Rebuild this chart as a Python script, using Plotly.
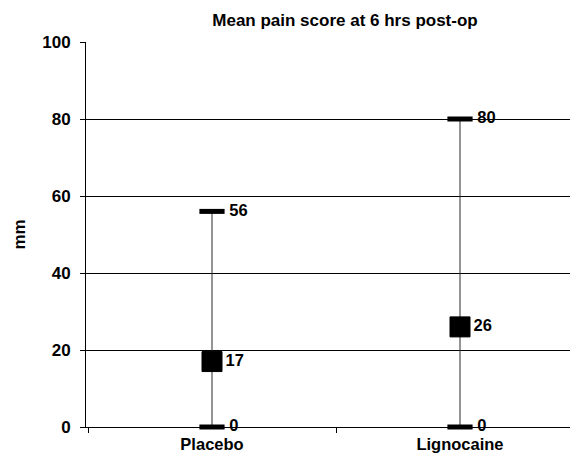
import plotly.graph_objects as go

categories = ["Placebo", "Lignocaine"]
means = [17, 26]
maxs = [56, 80]
mins = [0, 0]
y_ticks = [0, 20, 40, 60, 80, 100]

xpos = list(range(len(categories)))
FONT = "Liberation Sans, Arial, sans-serif"
lab_font = dict(family=FONT, size=16.5, color="black", weight="bold")

# page body has an 8px default margin; size the figure to fill the rest
OFF = 8
W, H = 578 - OFF, 454 - OFF

fig = go.Figure()

# vertical range lines
lx, ly = [], []
for i in xpos:
    lx += [i, i, None]
    ly += [mins[i], maxs[i], None]
fig.add_trace(go.Scatter(x=lx, y=ly, mode="lines", line=dict(color="#2a2a2a", width=1),
                         hoverinfo="skip", showlegend=False, cliponaxis=False))

# max / min dashes
for vals in (maxs, mins):
    fig.add_trace(go.Scatter(
        x=xpos, y=vals, mode="markers",
        marker=dict(symbol="line-ew", size=18, line=dict(color="black", width=5)),
        showlegend=False, cliponaxis=False, hoverinfo="skip"))
    # labels (invisible spacer marker controls text offset)
    fig.add_trace(go.Scatter(
        x=xpos, y=vals, mode="markers+text",
        marker=dict(size=26, opacity=0),
        text=[str(v) for v in vals], textposition="middle right",
        textfont=lab_font, showlegend=False, cliponaxis=False, hoverinfo="skip"))

# means
fig.add_trace(go.Scatter(
    x=xpos, y=means, mode="markers+text",
    marker=dict(symbol="square", size=20, color="black", line=dict(color="black", width=1)),
    text=[str(v) for v in means], textposition="middle right",
    textfont=lab_font, showlegend=False, cliponaxis=False))

unit = 248.0
plot_w = 578 - 86
lo = -126.0 / unit
fig.update_layout(
    width=W, height=H,
    margin=dict(l=86 - OFF, r=0, t=42 - OFF, b=27, autoexpand=False),
    paper_bgcolor="white", plot_bgcolor="white",
    font=dict(family=FONT, color="black"),
    title=dict(text="Mean pain score at 6 hrs post-op", x=(345 - OFF) / W, xanchor="center",
               xref="container", y=1 - (20 - OFF) / H, yanchor="middle", yref="container",
               font=dict(family=FONT, size=17, color="black", weight="bold")),
    xaxis=dict(range=[lo, lo + plot_w / unit], tickvals=xpos, ticktext=categories,
               ticks="outside", ticklen=2, tickcolor="rgba(0,0,0,0)",
               showgrid=False, zeroline=False, showline=True,
               linecolor="black", linewidth=1, automargin=False,
               tickfont=dict(family=FONT, size=16.5, color="black", weight="bold"),
               minor=dict(tickvals=[-0.5, 0.5, 1.5], ticks="outside", ticklen=5,
                          tickcolor="black", tickwidth=1, showgrid=False)),
    yaxis=dict(range=[0, 100], tickvals=y_ticks, ticks="outside", ticklen=5,
               tickcolor="black", showgrid=True, gridcolor="black", gridwidth=1,
               zeroline=False, showline=True, linecolor="black", linewidth=1,
               automargin=False, ticklabelstandoff=6,
               tickfont=dict(family=FONT, size=17, color="black", weight="bold"),
               title=dict(text="mm", standoff=12,
                          font=dict(family=FONT, size=17, color="black", weight="bold"))),
)

fig.write_html("out.html")
